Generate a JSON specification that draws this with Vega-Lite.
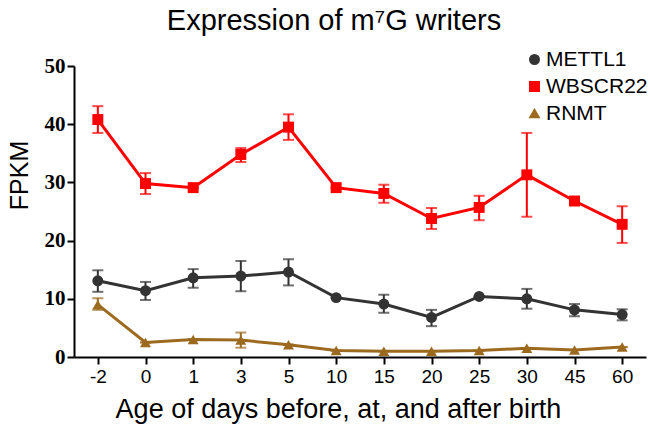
{
  "$schema": "https://vega.github.io/schema/vega-lite/v6.json",
  "width": 572,
  "height": 291,
  "autosize": "none",
  "padding": {"left": 74, "top": 66, "right": 4, "bottom": 72},
  "background": "white",
  "title": {
    "text": "Expression of m⁷G writers",
    "font": "Liberation Sans",
    "fontSize": 29,
    "fontWeight": "normal",
    "color": "#000000",
    "anchor": "middle",
    "frame": "group",
    "dx": -26,
    "offset": 13
  },
  "data": {
    "values": [
      {"age": "-2", "gene": "METTL1", "value": 13.1, "lo": 11.2, "hi": 14.9},
      {"age": "0", "gene": "METTL1", "value": 11.4, "lo": 9.8, "hi": 12.9},
      {"age": "1", "gene": "METTL1", "value": 13.6, "lo": 11.9, "hi": 15.1},
      {"age": "3", "gene": "METTL1", "value": 13.9, "lo": 11.3, "hi": 16.5},
      {"age": "5", "gene": "METTL1", "value": 14.6, "lo": 12.3, "hi": 16.8},
      {"age": "10", "gene": "METTL1", "value": 10.2, "lo": 10.2, "hi": 10.2},
      {"age": "15", "gene": "METTL1", "value": 9.1, "lo": 7.6, "hi": 10.7},
      {"age": "20", "gene": "METTL1", "value": 6.8, "lo": 5.3, "hi": 8.1},
      {"age": "25", "gene": "METTL1", "value": 10.4, "lo": 10.4, "hi": 10.4},
      {"age": "30", "gene": "METTL1", "value": 10.0, "lo": 8.3, "hi": 11.7},
      {"age": "45", "gene": "METTL1", "value": 8.1, "lo": 7.0, "hi": 9.1},
      {"age": "60", "gene": "METTL1", "value": 7.3, "lo": 6.3, "hi": 8.2},
      {"age": "-2", "gene": "WBSCR22", "value": 40.8, "lo": 38.5, "hi": 43.1},
      {"age": "0", "gene": "WBSCR22", "value": 29.8, "lo": 28.0, "hi": 31.6},
      {"age": "1", "gene": "WBSCR22", "value": 29.1, "lo": 29.1, "hi": 29.1},
      {"age": "3", "gene": "WBSCR22", "value": 34.8, "lo": 33.5, "hi": 35.9},
      {"age": "5", "gene": "WBSCR22", "value": 39.5, "lo": 37.3, "hi": 41.7},
      {"age": "10", "gene": "WBSCR22", "value": 29.1, "lo": 29.1, "hi": 29.1},
      {"age": "15", "gene": "WBSCR22", "value": 28.1, "lo": 26.5, "hi": 29.6},
      {"age": "20", "gene": "WBSCR22", "value": 23.8, "lo": 22.0, "hi": 25.6},
      {"age": "25", "gene": "WBSCR22", "value": 25.7, "lo": 23.5, "hi": 27.7},
      {"age": "30", "gene": "WBSCR22", "value": 31.3, "lo": 24.1, "hi": 38.5},
      {"age": "45", "gene": "WBSCR22", "value": 26.8, "lo": 26.8, "hi": 26.8},
      {"age": "60", "gene": "WBSCR22", "value": 22.8, "lo": 19.6, "hi": 25.9},
      {"age": "-2", "gene": "RNMT", "value": 9.0, "lo": 8.1, "hi": 10.1},
      {"age": "0", "gene": "RNMT", "value": 2.5, "lo": 2.5, "hi": 2.5},
      {"age": "1", "gene": "RNMT", "value": 3.0, "lo": 3.0, "hi": 3.0},
      {"age": "3", "gene": "RNMT", "value": 2.9, "lo": 1.6, "hi": 4.2},
      {"age": "5", "gene": "RNMT", "value": 2.1, "lo": 2.1, "hi": 2.1},
      {"age": "10", "gene": "RNMT", "value": 1.1, "lo": 1.1, "hi": 1.1},
      {"age": "15", "gene": "RNMT", "value": 1.0, "lo": 1.0, "hi": 1.0},
      {"age": "20", "gene": "RNMT", "value": 1.0, "lo": 1.0, "hi": 1.0},
      {"age": "25", "gene": "RNMT", "value": 1.1, "lo": 1.1, "hi": 1.1},
      {"age": "30", "gene": "RNMT", "value": 1.5, "lo": 1.5, "hi": 1.5},
      {"age": "45", "gene": "RNMT", "value": 1.2, "lo": 1.2, "hi": 1.2},
      {"age": "60", "gene": "RNMT", "value": 1.7, "lo": 1.7, "hi": 1.7}
    ]
  },
  "encoding": {
    "x": {
      "field": "age",
      "type": "ordinal",
      "sort": ["-2", "0", "1", "3", "5", "10", "15", "20", "25", "30", "45", "60"],
      "scale": {"type": "point", "padding": 0.5},
      "axis": {
        "title": "Age of days before, at, and after birth",
        "titleFont": "Liberation Sans",
        "titleFontSize": 27,
        "titleFontWeight": "normal",
        "titleColor": "#000000",
        "titlePadding": 10,
        "titleX": 264,
        "titleAnchor": "middle",
        "labelFont": "Liberation Sans",
        "labelFontSize": 19,
        "labelColor": "#000000",
        "labelAngle": 0,
        "labelPadding": 3,
        "domainColor": "#000000",
        "domainWidth": 2,
        "tickColor": "#000000",
        "tickWidth": 2,
        "tickSize": 7,
        "grid": false
      }
    },
    "color": {
      "field": "gene",
      "type": "nominal",
      "scale": {"domain": ["METTL1", "WBSCR22", "RNMT"], "range": ["#333333", "#ff0000", "#9c6a1f"]},
      "legend": {
        "title": null,
        "orient": "none",
        "legendX": 450,
        "legendY": -17,
        "labelFont": "Liberation Sans",
        "labelFontSize": 21,
        "labelColor": "#000000",
        "symbolSize": 90,
        "symbolOpacity": 1,
        "rowPadding": 5,
        "labelOffset": 1
      }
    }
  },
  "layer": [
    {
      "mark": {"type": "rule", "strokeWidth": 2},
      "encoding": {
        "y": {"field": "lo", "type": "quantitative"},
        "y2": {"field": "hi"}
      }
    },
    {
      "mark": {"type": "tick", "size": 11, "thickness": 2},
      "encoding": {"y": {"field": "lo", "type": "quantitative"}}
    },
    {
      "mark": {"type": "tick", "size": 11, "thickness": 2},
      "encoding": {"y": {"field": "hi", "type": "quantitative"}}
    },
    {
      "mark": {"type": "line", "strokeWidth": 3},
      "encoding": {
        "y": {"field": "value", "type": "quantitative"},
        "detail": {"field": "gene"}
      }
    },
    {
      "mark": {"type": "point", "filled": true, "opacity": 1, "size": 120},
      "encoding": {
        "y": {
          "field": "value",
          "type": "quantitative",
          "scale": {"domain": [0, 50]},
          "axis": {
            "title": "FPKM",
            "titleFont": "Liberation Sans",
            "titleFontSize": 25,
            "titleFontWeight": "normal",
            "titleColor": "#000000",
            "titlePadding": 12,
            "titleY": 109,
            "values": [0, 10, 20, 30, 40, 50],
            "labelFont": "Liberation Serif",
            "labelFontSize": 21,
            "labelFontWeight": "bold",
            "labelColor": "#000000",
            "labelPadding": 2,
            "domainColor": "#000000",
            "domainWidth": 2,
            "tickColor": "#000000",
            "tickWidth": 2,
            "tickSize": 7,
            "grid": false
          }
        },
        "shape": {
          "field": "gene",
          "type": "nominal",
          "scale": {"domain": ["METTL1", "WBSCR22", "RNMT"], "range": ["circle", "square", "triangle-up"]},
          "legend": {
            "title": null,
            "orient": "none",
            "legendX": 450,
            "legendY": -17,
            "labelFont": "Liberation Sans",
            "labelFontSize": 21,
            "labelColor": "#000000",
            "symbolSize": 90,
            "symbolOpacity": 1,
            "rowPadding": 5,
            "labelOffset": 1
          }
        }
      }
    }
  ],
  "config": {"view": {"stroke": null}}
}
